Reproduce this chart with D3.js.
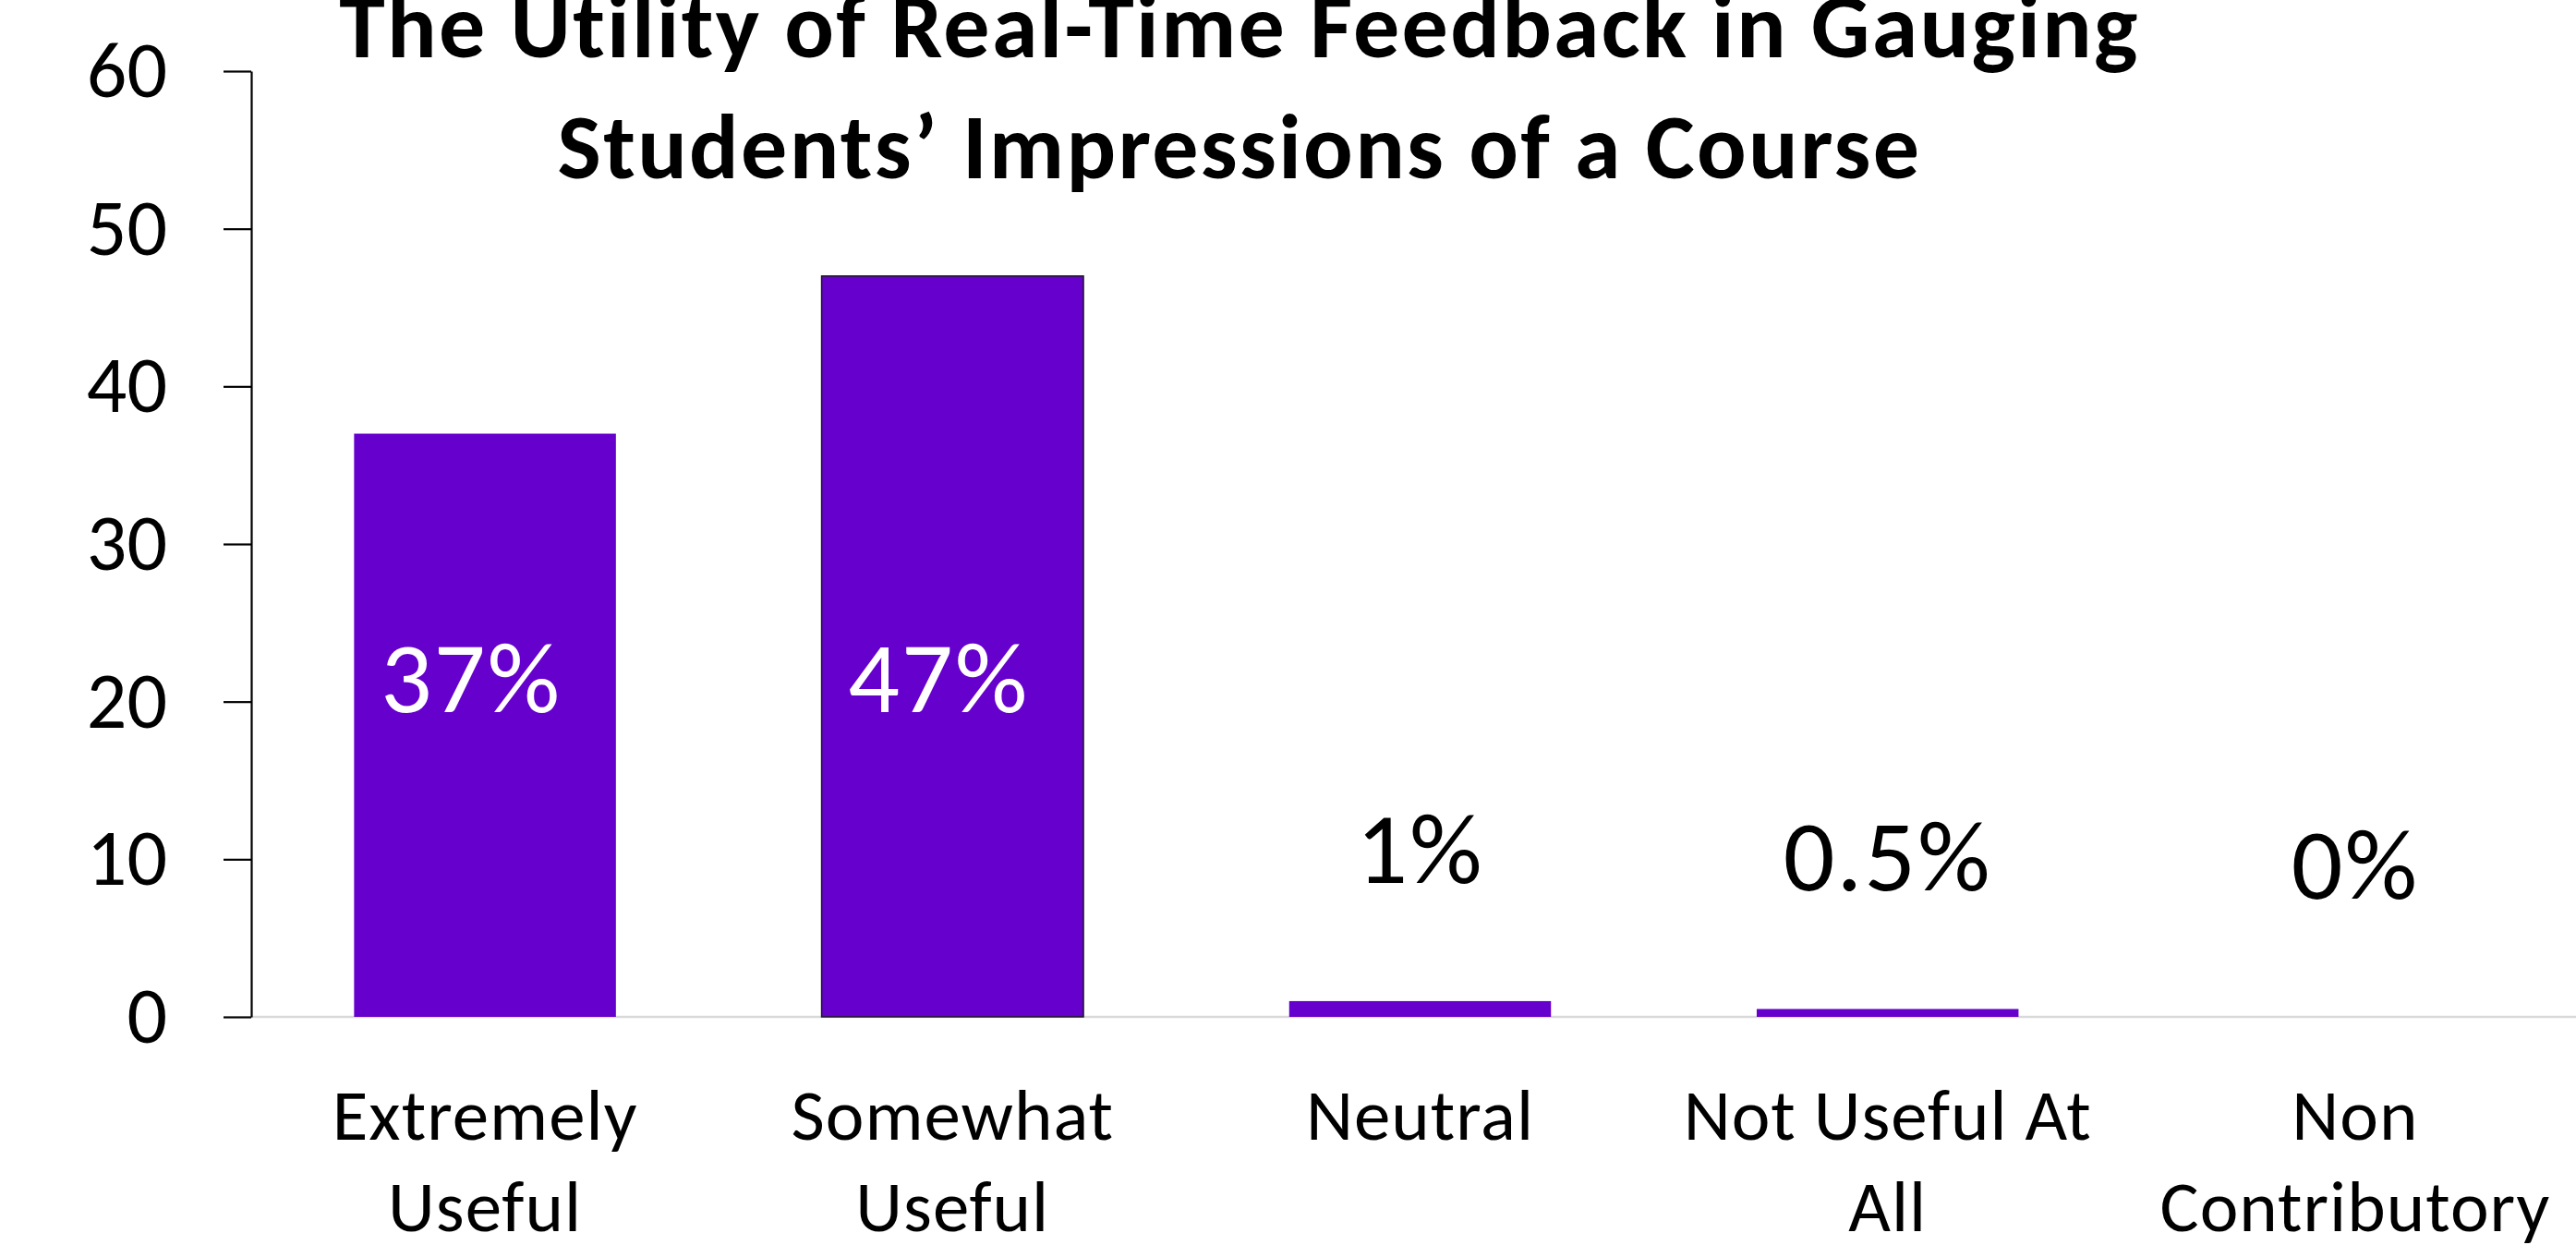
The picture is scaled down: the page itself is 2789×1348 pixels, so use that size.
<!DOCTYPE html>
<html>
<head>
<meta charset="utf-8">
<script src="https://cdn.jsdelivr.net/npm/d3@7"></script>
<style>
  html, body { margin: 0; padding: 0; background: #fff; overflow: hidden; }
  svg { display: block; }
  text { font-family: Carlito, Calibri, Lato, "Open Sans", sans-serif; font-variant-ligatures: none; font-feature-settings: "liga" 0; }
</style>
</head>
<body>
<svg id="chart" width="2789" height="1348"></svg>
<script>
// ---- data ----
const categories = ["Extremely Useful", "Somewhat Useful", "Neutral", "Not Useful At All", "Non Contributory"];
const categoryLines = [["Extremely", "Useful"], ["Somewhat", "Useful"], ["Neutral"], ["Not Useful At", "All"], ["Non", "Contributory"]];
const values = [37, 47, 1, 0.5, 0];
const valueLabels = ["37%", "47%", "1%", "0.5%", "0%"];
const yTicks = [0, 10, 20, 30, 40, 50, 60];
const titleLines = ["The Utility of Real-Time Feedback in Gauging", "Students\u2019 Impressions of a Course"];

// ---- layout ----
const W = 2789, H = 1348;
const mLeft = 272, mRight = 2803, mTop = 77, mBottom = 1101;
const barColor = "#6600CC";

const svg = d3.select("#chart");

const x = d3.scaleBand().domain(categories).range([mLeft, mRight]).paddingInner(0.44).paddingOuter(0.22);
const y = d3.scaleLinear().domain([0, 60]).range([mBottom, mTop]);

// baseline (category axis line)
svg.append("line")
  .attr("x1", mLeft).attr("x2", W).attr("y1", y(0)).attr("y2", y(0))
  .attr("stroke", "#d9d9d9").attr("stroke-width", 2.5);

// bars
svg.selectAll("rect.bar").data(values).join("rect")
  .attr("class", "bar")
  .attr("x", (d, i) => x(categories[i]))
  .attr("width", x.bandwidth())
  .attr("y", d => y(d))
  .attr("height", d => y(0) - y(d))
  .attr("fill", barColor)
  .attr("stroke", (d, i) => i === 1 ? "#1a1a1a" : "none")
  .attr("stroke-width", 1.5);

// y axis
const yAxis = d3.axisLeft(y).tickValues(yTicks).tickSize(30).tickSizeOuter(0).tickPadding(61);
const gy = svg.append("g").attr("transform", `translate(${mLeft},0)`).call(yAxis);
gy.select(".domain").attr("stroke", "#000").attr("stroke-width", 2.2);
gy.selectAll(".tick line").attr("stroke", "#000").attr("stroke-width", 2.2);
gy.selectAll(".tick text").attr("font-size", 86).attr("fill", "#000")
  .attr("font-family", "Carlito, Calibri, Lato, sans-serif");

// category labels
const catG = svg.append("g");
categoryLines.forEach((lines, i) => {
  const cx = x(categories[i]) + x.bandwidth() / 2;
  const t = catG.append("text").attr("text-anchor", "middle").attr("font-size", 79)
    .attr("letter-spacing", 1).attr("fill", "#000");
  lines.forEach((ln, j) => {
    t.append("tspan").attr("x", cx).attr("y", 1234 + j * 99).text(ln);
  });
});

// data labels
const insideLevel = 20;
svg.selectAll("text.val").data(values).join("text")
  .attr("class", "val")
  .attr("text-anchor", "middle")
  .attr("font-size", 110)
  .attr("letter-spacing", 2)
  .attr("x", (d, i) => x(categories[i]) + x.bandwidth() / 2 - (d > 10 ? 15 : 0))
  .attr("y", d => d > 10 ? y(insideLevel) + 11 : y(d) - 128)
  .attr("fill", d => d > 10 ? "#fff" : "#000")
  .text((d, i) => valueLabels[i]);

// title
const title = svg.append("text").attr("text-anchor", "middle").attr("font-size", 100)
  .attr("letter-spacing", 2.3).attr("font-weight", "bold").attr("fill", "#000");
titleLines.forEach((ln, j) => {
  title.append("tspan").attr("x", 1342).attr("y", 62 + j * 131).text(ln);
});
</script>
</body>
</html>
